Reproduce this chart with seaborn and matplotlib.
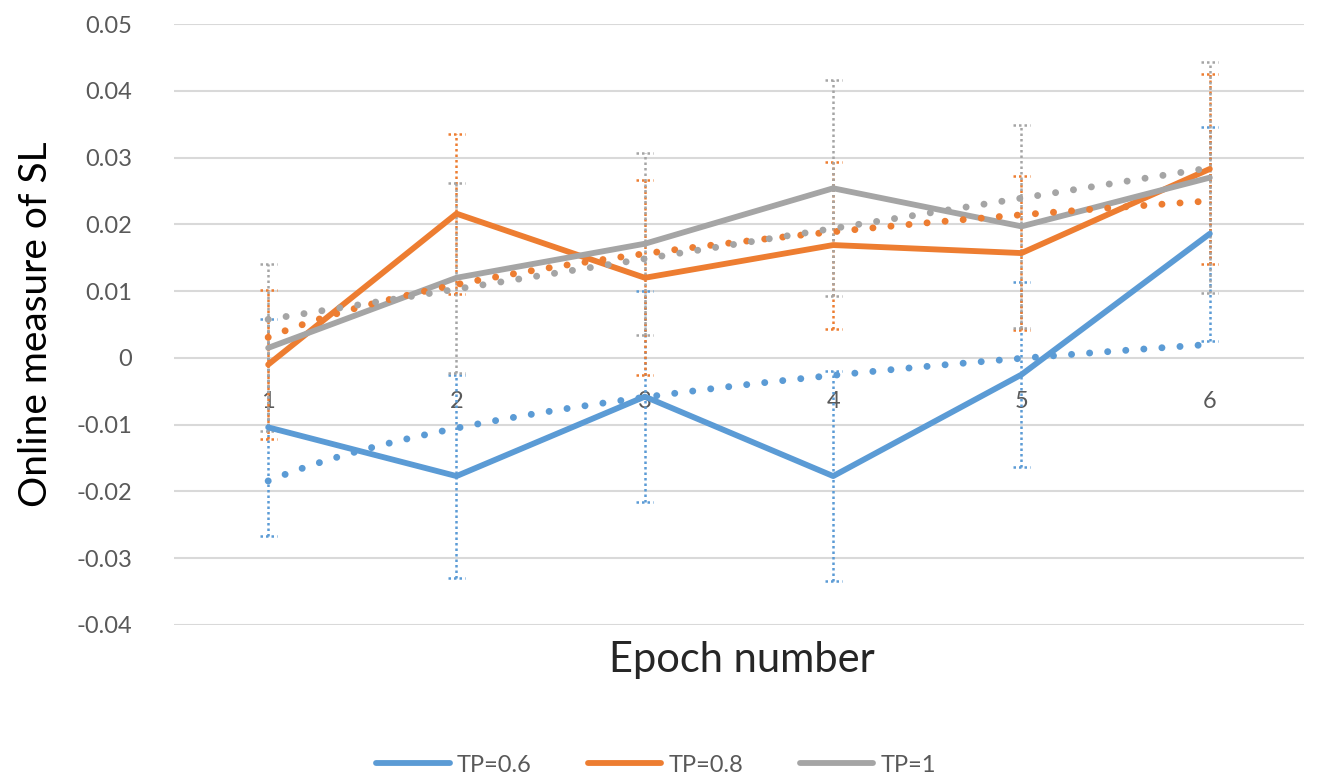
import matplotlib.pyplot as plt
import pandas as pd
import seaborn as sns
from matplotlib.ticker import FuncFormatter

# Values
epochs = [1, 2, 3, 4, 5, 6]
series_names = ["TP=0.6", "TP=0.8", "TP=1"]
tp06 = [-0.0104, -0.0177, -0.0058, -0.0177, -0.0025, 0.0186]
tp08 = [-0.0010, 0.0216, 0.0120, 0.0169, 0.0157, 0.0283]
tp1 = [0.0015, 0.0120, 0.0171, 0.0254, 0.0197, 0.0270]
err06 = [0.0162, 0.0152, 0.0158, 0.0157, 0.0138, 0.0160]
err08 = [0.0111, 0.0120, 0.0146, 0.0125, 0.0115, 0.0142]
err1 = [0.0125, 0.0142, 0.0136, 0.0162, 0.0152, 0.0173]
# trendline type per series (Excel: log for 0.6 / 0.8, linear for 1)
trend_log = {"TP=0.6": True, "TP=0.8": True, "TP=1": False}
y_ticks = [-0.04, -0.03, -0.02, -0.01, 0, 0.01, 0.02, 0.03, 0.04, 0.05]

colors = {"TP=0.6": "#5B9BD5", "TP=0.8": "#ED7D31", "TP=1": "#A5A5A5"}

df = pd.DataFrame({
    "Epoch": epochs * 3,
    "Value": tp06 + tp08 + tp1,
    "Error": err06 + err08 + err1,
    "TP": [name for name in series_names for _ in epochs],
})

sns.set_theme(style="white")
plt.rcParams["font.family"] = ["Lato", "DejaVu Sans"]

fig = plt.figure(figsize=(13.2, 7.83), dpi=100)
ax = fig.add_axes([174 / 1320, 0.2018, 1130 / 1320, 0.7675])

# Main series lines
sns.lineplot(data=df, x="Epoch", y="Value", hue="TP", hue_order=series_names,
             palette=colors, linewidth=4.2, ax=ax, zorder=3)
handles, labels = ax.get_legend_handles_labels()
ax.get_legend().remove()

# Dotted trendlines and dotted error bars
for name in series_names:
    sub = df[df["TP"] == name]
    c = colors[name]
    sns.regplot(x=sub["Epoch"], y=sub["Value"], logx=trend_log[name], ci=None, scatter=False, ax=ax,
                line_kws=dict(color=c, lw=5, linestyle=(0, (0.01, 2.6)),
                              dash_capstyle="round", zorder=4))
    lo = sub["Value"] - sub["Error"]
    hi = sub["Value"] + sub["Error"]
    ax.vlines(sub["Epoch"], lo, hi, colors=c, lw=1.8, linestyles=(0, (1, 1.2)), zorder=2)
    for ends in (lo, hi):
        ax.hlines(ends, sub["Epoch"] - 0.045, sub["Epoch"] + 0.045, colors=c, lw=1.8,
                  linestyles=(0, (1, 1.2)), zorder=2)

ax.set_xlim(0.5, 6.5)
ax.set_ylim(-0.04, 0.05)
ax.set_yticks(y_ticks)
ax.yaxis.set_major_formatter(FuncFormatter(lambda v, p: "0" if abs(v) < 1e-9 else f"{v:.2f}"))
ax.set_xticks(epochs)
ax.grid(axis="y", color="#D9D9D9", lw=1.5)
ax.set_axisbelow(True)
for s in ax.spines.values():
    s.set_visible(False)
ax.spines["bottom"].set_position(("data", 0))
ax.tick_params(axis="y", length=0, labelsize=17, labelcolor="#595959", pad=30)
ax.tick_params(axis="x", length=0, labelsize=17, labelcolor="#595959", pad=24)

ax.set_ylabel("Online measure of SL", fontsize=28, color="black")
ax.yaxis.set_label_coords(-0.106, 0.5)
ax.set_xlabel("")
fig.text(0.562, 1 - 660 / 783, "Epoch number", fontsize=30, ha="center", va="center")

fig.legend(handles, labels, loc="center", bbox_to_anchor=(0.497, 1 - 765 / 783), ncol=3,
           frameon=False, fontsize=17, labelcolor="#595959", handlelength=3.1,
           columnspacing=2.4, handletextpad=0.3)

plt.savefig("out.png", dpi=100)
